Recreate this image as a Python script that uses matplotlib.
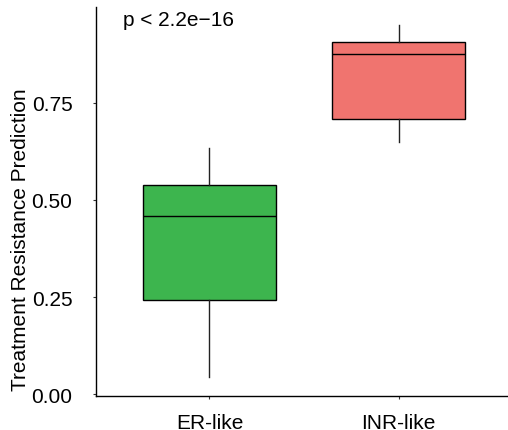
import numpy as np
import matplotlib.pyplot as plt

plt.rcParams['font.family'] = ['Liberation Sans', 'DejaVu Sans']

# box statistics
groups = ['ER-like', 'INR-like']
q1 = [0.242, 0.709]
med = [0.459, 0.876]
q3 = [0.539, 0.907]
whislo = [0.044, 0.649]
whishi = [0.634, 0.951]
colors = ['#3DB54E', '#F0746F']
yticks = [0.00, 0.25, 0.50, 0.75]

stats = []
for i in range(len(groups)):
    stats.append({'label': groups[i], 'q1': q1[i], 'med': med[i], 'q3': q3[i],
                  'whislo': whislo[i], 'whishi': whishi[i], 'fliers': []})

fig = plt.figure(figsize=(5.08, 4.31), dpi=100)
ax = fig.add_axes([96/508, 1 - 397/431, 416/508, 389/431])

bp = ax.bxp(stats, positions=[1, 2], widths=0.70, patch_artist=True,
            showcaps=False, showfliers=False,
            boxprops=dict(edgecolor='black', linewidth=1.0),
            medianprops=dict(color='black', linewidth=1.0),
            whiskerprops=dict(color='#222222', linewidth=1.0))
for patch, c in zip(bp['boxes'], colors):
    patch.set_facecolor(c)

ax.set_xlim(0.4, 2.6)
ax.set_ylim(-0.005, 0.997)
ax.set_yticks(yticks)
ax.set_yticklabels(['%.2f' % v for v in yticks])
ax.set_xticks([1, 2])
ax.set_xticklabels(groups)
ax.tick_params(axis='both', labelsize=15, length=2, color='#333333', labelcolor='black')
ax.tick_params(axis='x', pad=10)
ax.tick_params(axis='y', pad=15)

for s in ['top', 'right']:
    ax.spines[s].set_visible(False)
ax.spines['left'].set_linewidth(1.0)
ax.spines['bottom'].set_linewidth(1.0)

ax.set_ylabel('Treatment Resistance Prediction', fontsize=15)
# label sits lower than the panel centre in the reference
ax.yaxis.set_label_coords(-0.159, 0.404)
ax.text(0.545, 0.966, 'p < 2.2e\u221216', fontsize=15, ha='left', va='center')

fig.savefig('out.png', dpi=100)
